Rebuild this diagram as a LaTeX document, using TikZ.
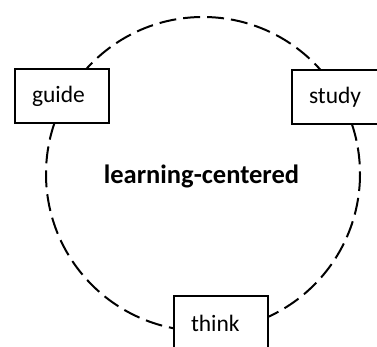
\documentclass[tikz,border=0pt]{standalone}
\usepackage{fontspec}
\setmainfont{Carlito}
\begin{document}
\begin{tikzpicture}[x=1pt,y=-1pt,
  ring/.style={line width=2pt, dash pattern=on 17pt off 7pt},
  stepbox/.style={draw, line width=2pt, fill=white, rectangle,
    minimum height=54pt, text width=60pt, inner xsep=17pt, inner ysep=0pt,
    align=left, font=\fontsize{23.5}{26}\selectfont, anchor=north west},
  hub/.style={font=\fontsize{26.5}{30}\selectfont\bfseries}]
  \useasboundingbox (0,0) rectangle (377,347);
  % dashed cycle around the central idea
  \coordinate (c) at (203,174);
  \draw[ring] (c) circle[radius=157];
  % the three activities on the ring
  \node[stepbox] (guide) at (14,68) {guide};
  \node[stepbox] (study) at (291,69) {study};
  \node[stepbox] (think) at (173,295) {think};
  \node[hub] (center) at (201.5,176) {learning-centered};
\end{tikzpicture}
\end{document}
